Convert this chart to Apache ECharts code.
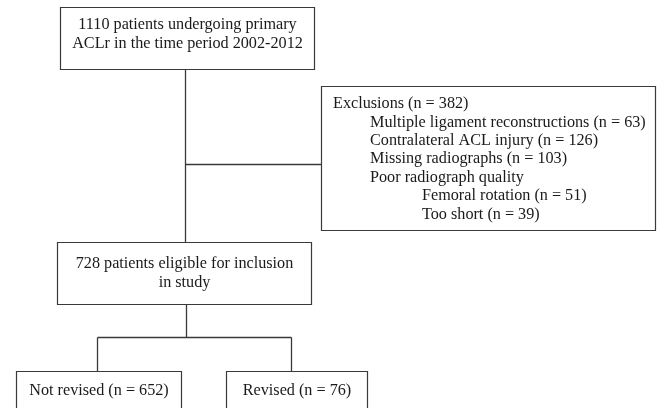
<!DOCTYPE html>
<html>
<head>
<meta charset="utf-8">
<script src="https://cdn.jsdelivr.net/npm/echarts@6/dist/echarts.min.js"></script>
<style>
  html, body { margin: 0; padding: 0; background: #fff; }
  #main { width: 660px; height: 408px; }
</style>
</head>
<body>
<div id="main"></div>
<script>
// flow counts
const totalPatients = 1110
const studyPeriod = '2002-2012'
const excludedTotal = 382
const exclusionLabels = ['Multiple ligament reconstructions', 'Contralateral ACL injury', 'Missing radiographs', 'Poor radiograph quality', 'Femoral rotation', 'Too short']
const exclusionCounts = [63, 126, 103, null, 51, 39]
const exclusionLevels = [1, 1, 1, 1, 2, 2]
const eligible = 728
const outcomeLabels = ['Not revised', 'Revised']
const outcomeCounts = [652, 76]

// box texts
const boxTexts = [
  [totalPatients + ' patients undergoing primary', 'ACLr in the time period ' + studyPeriod],
  ['Exclusions (n = ' + excludedTotal + ')'].concat(exclusionLabels.map((l, i) => exclusionCounts[i] == null ? l : l + ' (n = ' + exclusionCounts[i] + ')')),
  [eligible + ' patients eligible for inclusion', 'in study'],
  [outcomeLabels[0] + ' (n = ' + outcomeCounts[0] + ')'],
  [outcomeLabels[1] + ' (n = ' + outcomeCounts[1] + ')']
]

// layout (page units) : [x0, y0, x1, y1]
const boxRects = [
  [60.5, 7.5, 314.5, 69.5],
  [321.5, 86.5, 655.5, 230.5],
  [57.5, 242.5, 311.5, 304.5],
  [16.5, 371.5, 181.5, 415],
  [226.5, 371.5, 367.5, 415]
]
const textTops = [25, 104, 264, 391, 391]
const lineGap = [19, 18.4, 19, 0, 0]
const indentX = [333, 370, 422]

const connectors = [
  [[185.5, 69.5], [185.5, 242.5]],
  [[185.5, 164.5], [321.5, 164.5]],
  [[186.5, 304.5], [186.5, 337.5]],
  [[97.5, 337.5], [291.5, 337.5]],
  [[97.5, 337.5], [97.5, 371.5]],
  [[291.5, 337.5], [291.5, 371.5]]
]

const font = '16.2px "Liberation Serif", "Times New Roman", serif'
const ink = '#1a1a1a'
const stroke = '#3a3a3a'

const myChart = echarts.init(document.getElementById('main'))
const option = {
  animation: false,
  grid: { left: 0, right: 0, top: 0, bottom: 0 },
  xAxis: { type: 'value', min: 0, max: 660, show: false },
  yAxis: { type: 'value', min: 0, max: 408, inverse: true, show: false },
  series: [
    {
      type: 'custom',
      data: connectors.map((c, i) => [i]),
      renderItem: (params, api) => {
        const pts = connectors[api.value(0)].map(p => api.coord(p))
        return {
          type: 'polyline',
          shape: { points: pts },
          style: { stroke: stroke, lineWidth: 1.3, fill: null }
        }
      }
    },
    {
      type: 'custom',
      data: boxRects.map((r, i) => [i]),
      renderItem: (params, api) => {
        const i = api.value(0)
        const r = boxRects[i]
        const p0 = api.coord([r[0], r[1]])
        const p1 = api.coord([r[2], r[3]])
        const children = [{
          type: 'rect',
          shape: { x: p0[0], y: p0[1], width: p1[0] - p0[0], height: p1[1] - p0[1] },
          style: { fill: '#fff', stroke: stroke, lineWidth: 1.2 }
        }]
        boxTexts[i].forEach((t, k) => {
          let x, align
          if (i === 1) {
            const lvl = k === 0 ? 0 : exclusionLevels[k - 1]
            x = api.coord([indentX[lvl], 0])[0]
            align = 'left'
          } else {
            x = (p0[0] + p1[0]) / 2
            align = 'center'
          }
          const y = api.coord([0, textTops[i] + k * lineGap[i]])[1]
          children.push({
            type: 'text',
            style: {
              text: t, x: x, y: y, font: font, fill: ink,
              align: align, verticalAlign: 'middle',
              textAlign: align, textVerticalAlign: 'middle'
            }
          })
        })
        return { type: 'group', children: children }
      }
    }
  ]
}
option && myChart.setOption(option)
</script>
</body>
</html>
